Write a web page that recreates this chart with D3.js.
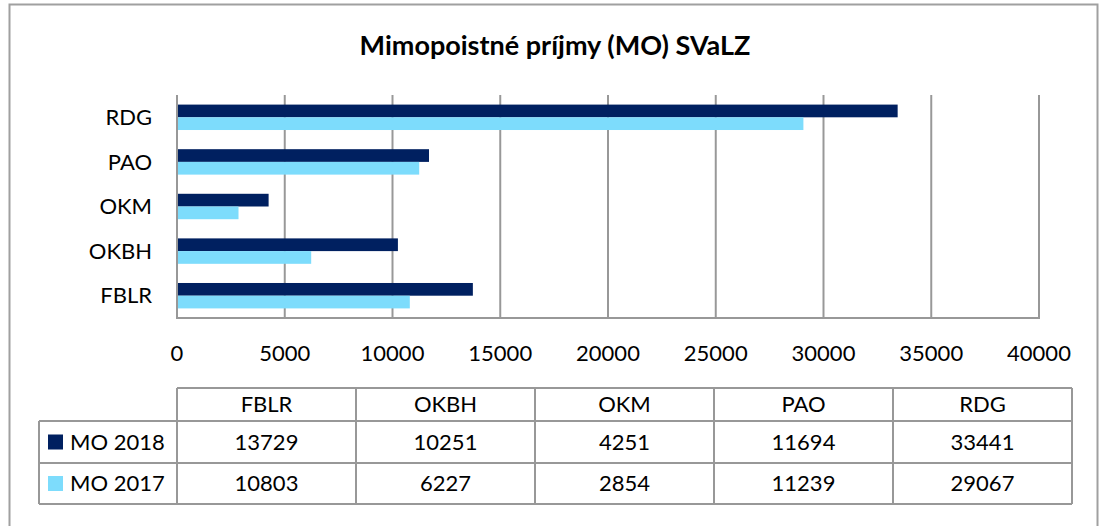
<!DOCTYPE html>
<html>
    <head>
        <meta charset="utf-8">
        <title>Mimopoistné príjmy (MO) SVaLZ</title>
        <script src="https://d3js.org/d3.v7.min.js"></script>
        <style>
            body { margin: 0; background: #fff; }
            text { font-family: Lato, "Open Sans", sans-serif; fill: #000; }
        </style>
    </head>
    <body>
        <div id="chart"></div>
        <script>
            //  data
            const categories = ["FBLR", "OKBH", "OKM", "PAO", "RDG"];
            const seriesNames = ["MO 2018", "MO 2017"];
            const mo2018 = [13729, 10251, 4251, 11694, 33441];
            const mo2017 = [10803, 6227, 2854, 11239, 29067];
            const xTicks = [0, 5000, 10000, 15000, 20000, 25000, 30000, 35000, 40000];

            const width = 1104;
            const height = 526;
            const darkColor = "#002060";
            const lightColor = "#7ddcfc";
            const gridColor = "#989898";

            const series = [
                {name: seriesNames[0], values: mo2018, color: darkColor},
                {name: seriesNames[1], values: mo2017, color: lightColor}
            ];

            const svg = d3.select("#chart").append("svg")
                .attr("width", width)
                .attr("height", height);

            //  outer frame
            svg.append("rect")
                .attr("x", 9.5).attr("y", 4.5)
                .attr("width", 1088).attr("height", 540)
                .attr("fill", "none")
                .attr("stroke", "#a0a0a0")
                .attr("stroke-width", 2);

            svg.append("text")
                .attr("x", 555).attr("y", 55)
                .attr("text-anchor", "middle")
                .attr("font-weight", "bold")
                .attr("font-size", 27)
                .text("Mimopoistné príjmy (MO) SVaLZ");

            //  scales
            const x = d3.scaleLinear().domain([0, 40000]).range([177, 1039]);
            const y = d3.scaleBand()
                .domain(categories.slice().reverse())
                .range([95, 318])
                .paddingInner(0.43)
                .paddingOuter(0.215);
            const ySub = d3.scaleBand()
                .domain(seriesNames)
                .range([0, y.bandwidth()]);

            //  gridlines
            svg.append("g")
                .selectAll("line")
                .data(xTicks)
                .join("line")
                .attr("x1", d => x(d)).attr("x2", d => x(d))
                .attr("y1", 95).attr("y2", 319)
                .attr("stroke", gridColor)
                .attr("stroke-width", 2);

            svg.append("line")
                .attr("x1", x(0) - 1).attr("x2", x(40000) + 1)
                .attr("y1", 318).attr("y2", 318)
                .attr("stroke", gridColor)
                .attr("stroke-width", 2);

            //  bars
            svg.append("g")
                .selectAll("g")
                .data(series)
                .join("g")
                .attr("fill", s => s.color)
                .selectAll("rect")
                .data(s => s.values.map((v, i) => ({cat: categories[i], value: v, name: s.name})))
                .join("rect")
                .attr("x", x(0) + 1)
                .attr("y", d => y(d.cat) + ySub(d.name))
                .attr("width", d => x(d.value) - x(0) - 1)
                .attr("height", ySub.bandwidth());

            //  x tick labels
            svg.append("g")
                .selectAll("text")
                .data(xTicks)
                .join("text")
                .attr("x", d => x(d))
                .attr("y", 361)
                .attr("text-anchor", "middle")
                .attr("font-size", 22)
                .text(d => d);

            //  category labels
            svg.append("g")
                .selectAll("text")
                .data(categories)
                .join("text")
                .attr("x", 152)
                .attr("y", d => y(d) + y.bandwidth() / 2)
                .attr("dy", "0.35em")
                .attr("text-anchor", "end")
                .attr("font-size", 22)
                .text(d => d);

            //  data table
            const col = d3.scaleBand().domain(categories).range([177, 1072]);
            const rowTop = [388, 421, 463];
            const rowBottom = 504;
            const legendLeft = 39;
            const table = svg.append("g")
                .attr("stroke", gridColor)
                .attr("stroke-width", 2)
                .attr("fill", "none");

            table.append("line").attr("x1", 177).attr("x2", 1072).attr("y1", rowTop[0]).attr("y2", rowTop[0]);
            [rowTop[1], rowTop[2], rowBottom].forEach(yy => {
                table.append("line").attr("x1", legendLeft).attr("x2", 1072).attr("y1", yy).attr("y2", yy);
            });
            table.append("line").attr("x1", legendLeft).attr("x2", legendLeft).attr("y1", rowTop[1]).attr("y2", rowBottom);
            categories.forEach(c => {
                table.append("line").attr("x1", col(c)).attr("x2", col(c)).attr("y1", rowTop[0]).attr("y2", rowBottom);
            });
            table.append("line").attr("x1", 1072).attr("x2", 1072).attr("y1", rowTop[0]).attr("y2", rowBottom);

            svg.append("g")
                .selectAll("text")
                .data(categories)
                .join("text")
                .attr("x", d => col(d) + col.bandwidth() / 2)
                .attr("y", (rowTop[0] + rowTop[1]) / 2)
                .attr("dy", "0.35em")
                .attr("text-anchor", "middle")
                .attr("font-size", 22)
                .text(d => d);

            const rowMid = [(rowTop[1] + rowTop[2]) / 2, (rowTop[2] + rowBottom) / 2];
            series.forEach((s, r) => {
                svg.append("rect")
                    .attr("x", 48).attr("y", rowMid[r] - 7.5)
                    .attr("width", 15).attr("height", 15)
                    .attr("fill", s.color);
                svg.append("text")
                    .attr("x", 70).attr("y", rowMid[r])
                    .attr("dy", "0.35em")
                    .attr("font-size", 22)
                    .text(s.name);
                svg.append("g")
                    .selectAll("text")
                    .data(s.values)
                    .join("text")
                    .attr("x", (d, i) => col(categories[i]) + col.bandwidth() / 2)
                    .attr("y", rowMid[r])
                    .attr("dy", "0.35em")
                    .attr("text-anchor", "middle")
                    .attr("font-size", 22)
                    .text(d => d);
            });
        </script>
    </body>
</html>
